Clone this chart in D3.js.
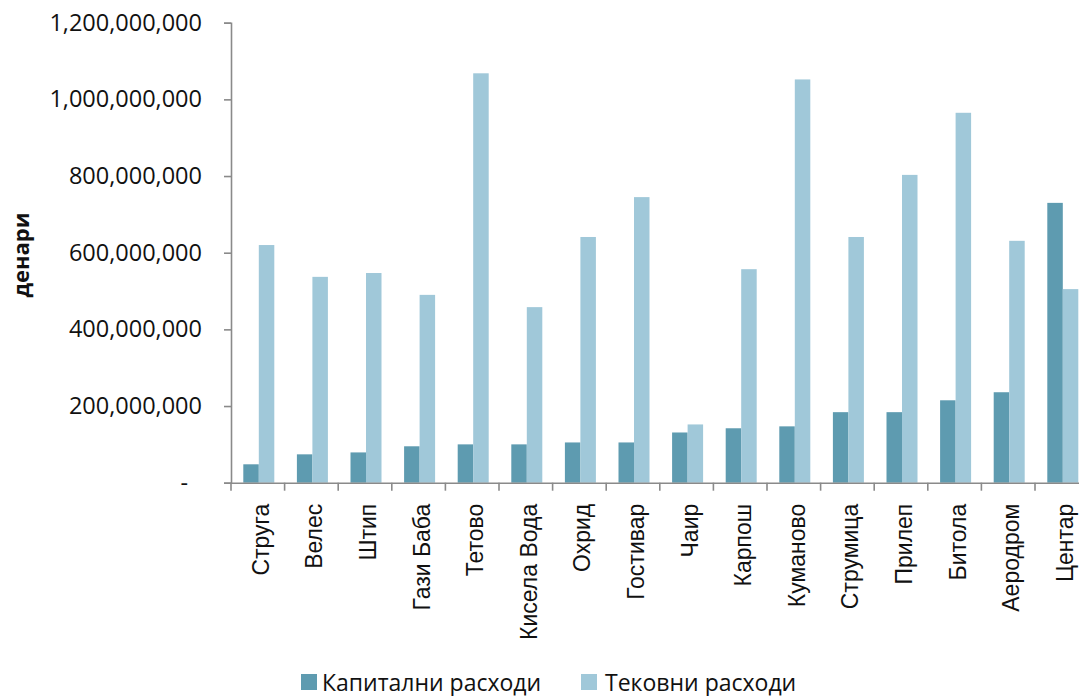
<!DOCTYPE html>
<html>
<head>
<meta charset="utf-8">
<script src="https://cdn.jsdelivr.net/npm/d3@7"></script>
<style>
  html, body { margin: 0; padding: 0; background: #fff; overflow: hidden; }
  svg { display: block; }
</style>
</head>
<body>
<svg id="chart" width="1079" height="696"></svg>
<script>
// Municipal expenditure by municipality (denars)
const municipalities = ["Струга", "Велес", "Штип", "Гази Баба", "Тетово", "Кисела Вода", "Охрид", "Гостивар",
  "Чаир", "Карпош", "Куманово", "Струмица", "Прилеп", "Битола", "Аеродром", "Центар"];
const capitalExpenses = [48e6, 74e6, 79e6, 95e6, 100e6, 100e6, 105e6, 105e6,
  131e6, 142e6, 147e6, 184e6, 184e6, 215e6, 236e6, 730e6];
const currentExpenses = [620e6, 537e6, 547e6, 490e6, 1068e6, 458e6, 641e6, 745e6,
  152e6, 557e6, 1052e6, 641e6, 803e6, 965e6, 631e6, 505e6];
const seriesNames = ["Капитални расходи", "Тековни расходи"];
const seriesColors = ["#5e9bb0", "#a0c8d9"];
const yTicks = [0, 200e6, 400e6, 600e6, 800e6, 1000e6, 1200e6];
const yTitle = "денари";

const svg = d3.select("#chart");
const plotLeft = 231, plotTop = 22.7, plotBottom = 482.7, plotRight = 1088.6;
const axisColor = "#8a8a8a";

const x = d3.scaleBand().domain(municipalities).range([plotLeft, plotRight]).paddingInner(0).paddingOuter(0);
const groupW = 31;
const xs = d3.scaleBand().domain([0, 1]).range([0, groupW]);
const y = d3.scaleLinear().domain([0, 1200e6]).range([plotBottom, plotTop]);

// bars
const rows = municipalities.map((m, i) => ({ m, vals: [capitalExpenses[i], currentExpenses[i]] }));
const groups = svg.append("g").selectAll("g").data(rows).join("g")
  .attr("transform", d => `translate(${x(d.m) + (x.bandwidth() - groupW) / 2 + 1},0)`);
groups.selectAll("rect").data(d => d.vals.map((v, k) => ({ v, k }))).join("rect")
  .attr("x", d => xs(d.k))
  .attr("width", xs.bandwidth())
  .attr("y", d => y(d.v))
  .attr("height", d => y(0) - y(d.v))
  .attr("fill", d => seriesColors[d.k]);

// y axis
const fmt = d3.format(",");
const yAxis = svg.append("g").attr("transform", `translate(${plotLeft},0)`)
  .call(d3.axisLeft(y).tickValues(yTicks).tickSize(7).tickPadding(22)
    .tickFormat(d => d === 0 ? "-" : fmt(d)));
yAxis.select(".domain").attr("stroke", axisColor).attr("stroke-width", 1.6);
yAxis.selectAll(".tick line").attr("stroke", axisColor).attr("stroke-width", 1.6);
yAxis.selectAll(".tick text")
  .attr("fill", "#111")
  .style("font-family", "'Open Sans', sans-serif")
  .style("font-size", "23.5px")
  .attr("dx", d => d === 0 ? -14 : 0);

// x axis with ticks between categories
const xAxis = svg.append("g").attr("transform", `translate(0,${plotBottom})`)
  .call(d3.axisBottom(x).tickSize(0).tickPadding(0));
xAxis.select(".domain").attr("stroke", axisColor).attr("stroke-width", 1.6);
const boundaries = municipalities.map(m => x(m)).concat([plotRight]);
xAxis.selectAll("line.sep").data(boundaries).join("line").attr("class", "sep")
  .attr("x1", d => d).attr("x2", d => d).attr("y1", 0).attr("y2", 8)
  .attr("stroke", axisColor).attr("stroke-width", 1.6);
xAxis.selectAll(".tick text")
  .attr("fill", "#111")
  .style("font-family", "'Liberation Sans', Arial, sans-serif")
  .style("font-size", "23px")
  .attr("text-anchor", "end")
  .attr("transform", "translate(0,21) rotate(-90)")
  .attr("x", 0).attr("y", 0)
  .attr("dy", "0.48em");

// y axis title
svg.append("text")
  .attr("transform", "translate(29,255) rotate(-90)")
  .attr("text-anchor", "middle")
  .attr("fill", "#111")
  .style("font-family", "'Open Sans', sans-serif")
  .style("font-weight", "bold")
  .style("font-size", "22px")
  .text(yTitle);

// legend
const legendX = [301, 581];
const legend = svg.append("g").selectAll("g").data(seriesNames).join("g")
  .attr("transform", (d, i) => `translate(${legendX[i]},674)`);
legend.append("rect").attr("width", 16).attr("height", 16).attr("fill", (d, i) => seriesColors[i]);
legend.append("text")
  .attr("x", (d, i) => i === 0 ? 21 : 24).attr("y", 16.5)
  .attr("fill", "#111")
  .style("font-family", "'Open Sans', sans-serif")
  .style("font-size", "23px")
  .text(d => d);
</script>
</body>
</html>
